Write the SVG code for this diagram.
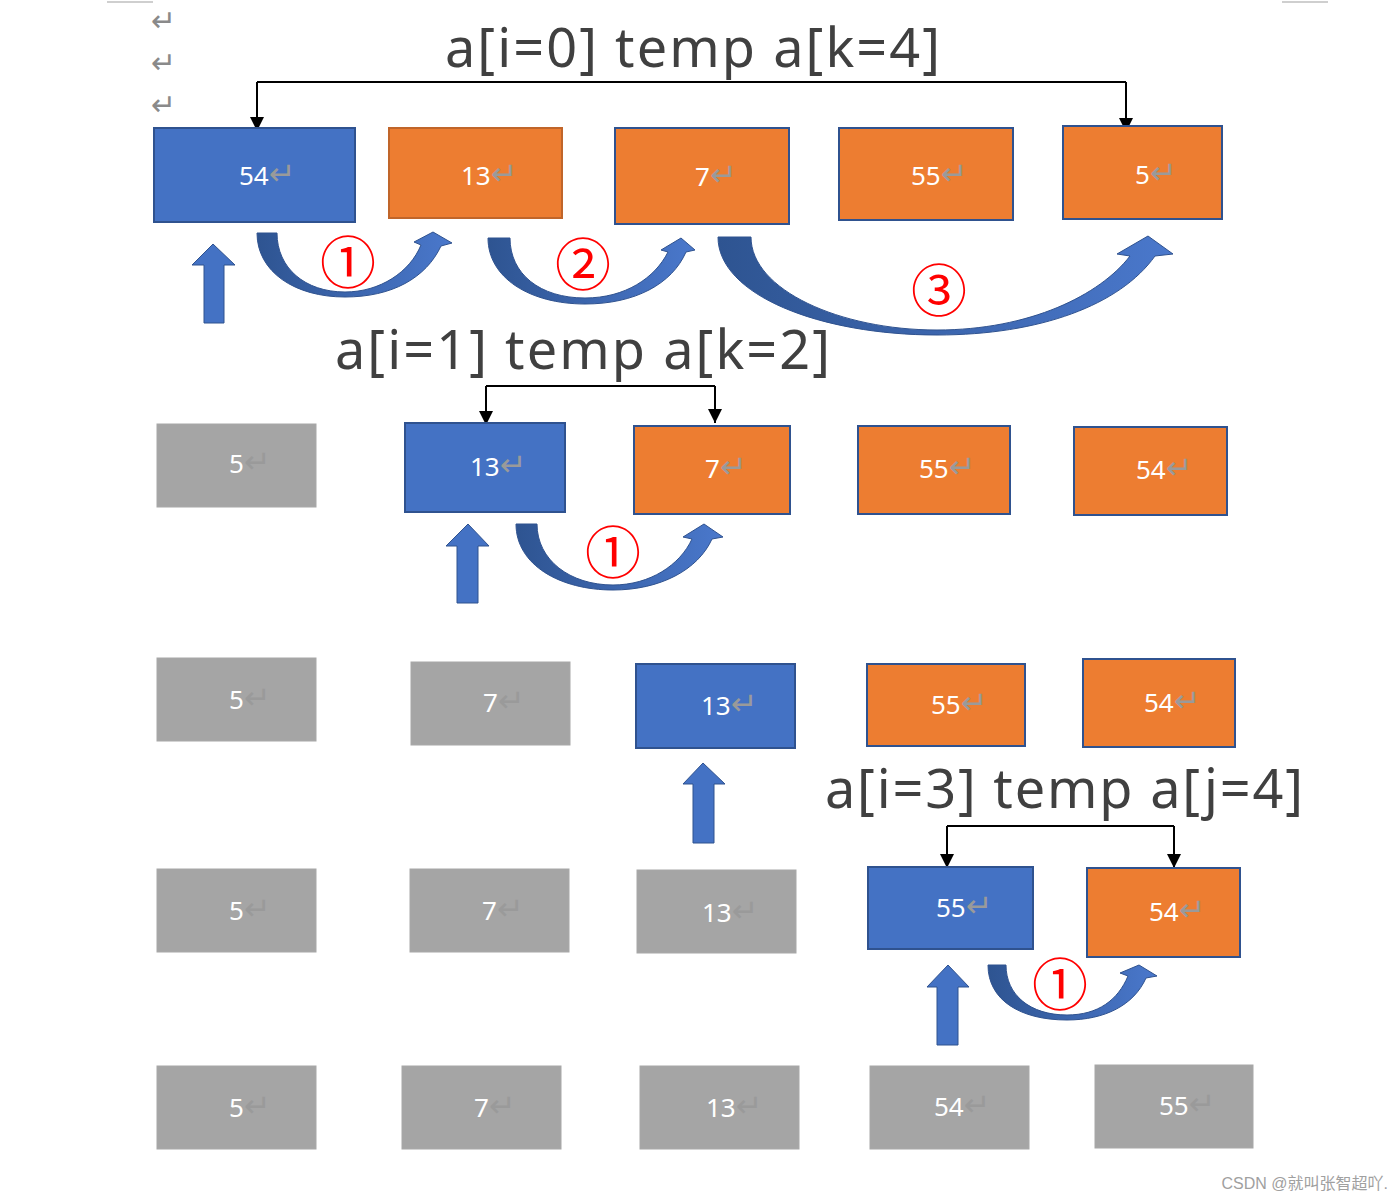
<svg xmlns="http://www.w3.org/2000/svg" width="1400" height="1200" viewBox="0 0 1400 1200">
<defs>
<style>
.blue{fill:#4472C4;stroke:#2F528F;stroke-width:2}
.orange{fill:#ED7D31;stroke:#2F528F;stroke-width:2}
.orange2{fill:#ED7D31;stroke:#C0652A;stroke-width:2}
.gray{fill:#A5A5A5;stroke:#A8A8A8;stroke-width:1}
.num{font-family:"Noto Sans","Liberation Sans",sans-serif;font-size:26px;fill:#FFFFFF}
.ret{fill:#9A9A9A;font-family:"DejaVu Sans",sans-serif;font-size:32px}
.title{font-family:"Noto Sans","Open Sans","Liberation Sans",sans-serif;font-size:54px;fill:#404040}
.circ{font-family:"Noto Sans CJK SC","Noto Sans",sans-serif;font-size:56px;fill:#FF0000;text-anchor:middle}
.conn{fill:none;stroke:#000;stroke-width:2}
.curve{fill:url(#cg);stroke:#2F528F;stroke-width:1}
.up{fill:#4472C4;stroke:#2F528F;stroke-width:1}
.mark{font-family:"DejaVu Sans",sans-serif;font-size:30px;fill:#8A8A8A}
</style>
<linearGradient id="cg" x1="0" y1="0" x2="1" y2="0">
<stop offset="0" stop-color="#2E5491"/>
<stop offset="1" stop-color="#4A78CC"/>
</linearGradient>
<marker id="ah" viewBox="0 0 10 10" refX="10" refY="5" markerWidth="15" markerHeight="14" markerUnits="userSpaceOnUse" orient="auto">
<path d="M0,0 L10,5 L0,10 Z" fill="#000"/>
</marker>
</defs>
<rect width="1400" height="1200" fill="#FFFFFF"/>
<g id="page-marks">
<line x1="107" y1="2" x2="153" y2="2" stroke="#CFCFCF" stroke-width="2"/>
<line x1="1282" y1="2" x2="1328" y2="2" stroke="#CFCFCF" stroke-width="2"/>
<text class="mark" x="151" y="31">↵</text>
<text class="mark" x="151" y="73">↵</text>
<text class="mark" x="151" y="115">↵</text>
</g>
<g id="titles">
<text class="title" x="445" y="67" textLength="495">a[i=0] temp a[k=4]</text>
<text class="title" x="335" y="369" textLength="495">a[i=1] temp a[k=2]</text>
<text class="title" x="825" y="808" textLength="478">a[i=3] temp a[j=4]</text>
</g>
<g id="connectors">
<path class="conn" d="M257,82 L1126,82"/>
<path class="conn" d="M257,82 L257,131" marker-end="url(#ah)"/>
<path class="conn" d="M1126,82 L1126,132" marker-end="url(#ah)"/>
<path class="conn" d="M486,386 L715,386"/>
<path class="conn" d="M486,386 L486,425" marker-end="url(#ah)"/>
<path class="conn" d="M715,386 L715,423" marker-end="url(#ah)"/>
<path class="conn" d="M947,826 L1174,826"/>
<path class="conn" d="M947,826 L947,868" marker-end="url(#ah)"/>
<path class="conn" d="M1174,826 L1174,868" marker-end="url(#ah)"/>
</g>
<g id="row1">
<g id="r1n1"><rect class="blue" x="154" y="128" width="201" height="94"/><text class="num" x="239" y="185">54<tspan class="ret">↵</tspan></text></g>
<g id="r1n2"><rect class="orange2" x="389" y="128" width="173" height="90"/><text class="num" x="461" y="185">13<tspan class="ret">↵</tspan></text></g>
<g id="r1n3"><rect class="orange" x="615" y="128" width="174" height="96"/><text class="num" x="695" y="186">7<tspan class="ret">↵</tspan></text></g>
<g id="r1n4"><rect class="orange" x="839" y="128" width="174" height="92"/><text class="num" x="911" y="185">55<tspan class="ret">↵</tspan></text></g>
<g id="r1n5"><rect class="orange" x="1063" y="126" width="159" height="93"/><text class="num" x="1135" y="184">5<tspan class="ret">↵</tspan></text></g>
</g>
<g id="row2">
<g id="r2n1"><rect class="gray" x="157" y="424" width="159" height="83"/><text class="num" x="229" y="473">5<tspan class="ret">↵</tspan></text></g>
<g id="r2n2"><rect class="blue" x="405" y="423" width="160" height="89"/><text class="num" x="470" y="476">13<tspan class="ret">↵</tspan></text></g>
<g id="r2n3"><rect class="orange" x="634" y="426" width="156" height="88"/><text class="num" x="705" y="478">7<tspan class="ret">↵</tspan></text></g>
<g id="r2n4"><rect class="orange" x="858" y="426" width="152" height="88"/><text class="num" x="919" y="478">55<tspan class="ret">↵</tspan></text></g>
<g id="r2n5"><rect class="orange" x="1074" y="427" width="153" height="88"/><text class="num" x="1136" y="479">54<tspan class="ret">↵</tspan></text></g>
</g>
<g id="row3">
<g id="r3n1"><rect class="gray" x="157" y="658" width="159" height="83"/><text class="num" x="229" y="709">5<tspan class="ret">↵</tspan></text></g>
<g id="r3n2"><rect class="gray" x="411" y="662" width="159" height="83"/><text class="num" x="483" y="712">7<tspan class="ret">↵</tspan></text></g>
<g id="r3n3"><rect class="blue" x="636" y="664" width="159" height="84"/><text class="num" x="701" y="715">13<tspan class="ret">↵</tspan></text></g>
<g id="r3n4"><rect class="orange" x="867" y="664" width="158" height="82"/><text class="num" x="931" y="714">55<tspan class="ret">↵</tspan></text></g>
<g id="r3n5"><rect class="orange" x="1083" y="659" width="152" height="88"/><text class="num" x="1144" y="712">54<tspan class="ret">↵</tspan></text></g>
</g>
<g id="row4">
<g id="r4n1"><rect class="gray" x="157" y="869" width="159" height="83"/><text class="num" x="229" y="920">5<tspan class="ret">↵</tspan></text></g>
<g id="r4n2"><rect class="gray" x="410" y="869" width="159" height="83"/><text class="num" x="482" y="920">7<tspan class="ret">↵</tspan></text></g>
<g id="r4n3"><rect class="gray" x="637" y="870" width="159" height="83"/><text class="num" x="702" y="922">13<tspan class="ret">↵</tspan></text></g>
<g id="r4n4"><rect class="blue" x="868" y="867" width="165" height="82"/><text class="num" x="936" y="917">55<tspan class="ret">↵</tspan></text></g>
<g id="r4n5"><rect class="orange" x="1087" y="868" width="153" height="89"/><text class="num" x="1149" y="921">54<tspan class="ret">↵</tspan></text></g>
</g>
<g id="row5">
<g id="r5n1"><rect class="gray" x="157" y="1066" width="159" height="83"/><text class="num" x="229" y="1117">5<tspan class="ret">↵</tspan></text></g>
<g id="r5n2"><rect class="gray" x="402" y="1066" width="159" height="83"/><text class="num" x="474" y="1117">7<tspan class="ret">↵</tspan></text></g>
<g id="r5n3"><rect class="gray" x="640" y="1066" width="159" height="83"/><text class="num" x="706" y="1117">13<tspan class="ret">↵</tspan></text></g>
<g id="r5n4"><rect class="gray" x="870" y="1066" width="159" height="83"/><text class="num" x="934" y="1116">54<tspan class="ret">↵</tspan></text></g>
<g id="r5n5"><rect class="gray" x="1095" y="1065" width="158" height="83"/><text class="num" x="1159" y="1115">55<tspan class="ret">↵</tspan></text></g>
</g>
<g id="arrows">
<path class="up" d="M213,244 L235,265 L224,265 L224,323 L204,323 L204,265 L192,265 Z"/>
<path class="up" d="M468,524 L489,546 L478,546 L478,603 L457,603 L457,546 L446,546 Z"/>
<path class="up" d="M703,763 L725,784 L714,784 L714,843 L693,843 L693,784 L683,784 Z"/>
<path class="up" d="M948,965 L969,987 L958,987 L958,1045 L937,1045 L937,987 L927,987 Z"/>
<path class="curve" d="M257,233 L277,233 C277,268 305,292 345,292 C380,292 410,272 421,245 L414,242 L433,232 L452,243 L441,246 C426,278 392,297 345,297 C295,297 257,272 257,233 Z"/>
<path class="curve" d="M488,238 L510,238 C510,274 540,298 585,298 C625,298 655,278 668,252 L661,250 L681,238 L695,250 L686,252 C672,284 635,304 585,304 C530,304 488,278 488,238 Z"/>
<path class="curve" d="M718,237 L751,237 C751,290 840,330 937,330 C1030,330 1100,295 1130,256 L1117,254 L1148,236 L1173,254 L1155,256 C1120,305 1040,335 937,335 C820,335 718,295 718,237 Z"/>
<path class="curve" d="M516,524 L537,524 C537,560 570,585 613,585 C650,585 680,565 692,539 L683,537 L704,524 L723,537 L712,539 C698,570 660,590 613,590 C560,590 516,565 516,524 Z"/>
<path class="curve" d="M988,965 L1006,965 C1006,995 1030,1015 1067,1015 C1098,1015 1118,1000 1128,976 L1120,973 L1139,965 L1157,976 L1146,978 C1134,1005 1105,1020 1067,1020 C1020,1020 988,1000 988,965 Z"/>
</g>
<g id="step-labels">
<text class="circ" x="348" y="283">①</text>
<text class="circ" x="583" y="285">②</text>
<text class="circ" x="939" y="311">③</text>
<text class="circ" x="613" y="573">①</text>
<text class="circ" x="1060" y="1005">①</text>
</g>
<text x="1388" y="1189" text-anchor="end" font-family="'Liberation Sans','Noto Sans CJK SC',sans-serif" font-size="16" fill="#A0A0A0">CSDN @就叫张智超吖.</text>
</svg>
